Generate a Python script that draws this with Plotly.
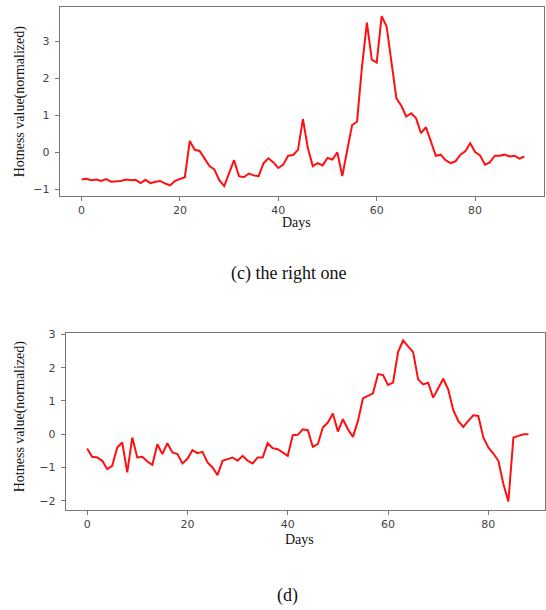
import plotly.graph_objects as go

# ---- data ----
days_c = list(range(91))
hot_c = [-0.74, -0.72, -0.76, -0.74, -0.78, -0.73, -0.80, -0.80, -0.78, -0.74,
         -0.76, -0.75, -0.84, -0.75, -0.84, -0.80, -0.78, -0.85, -0.90, -0.78,
         -0.74, -0.68, 0.30, 0.06, 0.03, -0.16, -0.38, -0.47, -0.76, -0.92,
         -0.56, -0.22, -0.65, -0.68, -0.58, -0.63, -0.65, -0.30, -0.17, -0.28,
         -0.43, -0.34, -0.10, -0.08, 0.06, 0.89, 0.11, -0.38, -0.30, -0.36,
         -0.16, -0.20, -0.01, -0.65, 0.05, 0.73, 0.82, 2.30, 3.50, 2.50,
         2.42, 3.67, 3.40, 2.40, 1.45, 1.25, 0.96, 1.05, 0.91, 0.51,
         0.67, 0.29, -0.10, -0.07, -0.22, -0.30, -0.25, -0.07, 0.02, 0.24,
         0.00, -0.09, -0.34, -0.28, -0.10, -0.10, -0.07, -0.12, -0.10, -0.18,
         -0.12]

days_d = list(range(89))
hot_d = [-0.43, -0.68, -0.70, -0.80, -1.05, -0.95, -0.40, -0.25, -1.15, -0.10,
         -0.70, -0.68, -0.82, -0.92, -0.30, -0.60, -0.27, -0.55, -0.60, -0.88,
         -0.74, -0.48, -0.57, -0.53, -0.85, -1.00, -1.23, -0.80, -0.75, -0.70,
         -0.80, -0.65, -0.80, -0.88, -0.70, -0.70, -0.27, -0.42, -0.45, -0.55,
         -0.65, -0.03, -0.02, 0.15, 0.12, -0.38, -0.30, 0.20, 0.35, 0.62,
         0.08, 0.45, 0.15, -0.08, 0.40, 1.08, 1.15, 1.23, 1.81, 1.78,
         1.48, 1.55, 2.47, 2.82, 2.64, 2.47, 1.65, 1.50, 1.55, 1.10,
         1.38, 1.67, 1.35, 0.73, 0.40, 0.22, 0.40, 0.57, 0.55, -0.10,
         -0.40, -0.58, -0.80, -1.50, -2.02, -0.10, -0.05, 0.00, 0.00]

x_ticks = [0, 20, 40, 60, 80]
y_ticks_c = [-1, 0, 1, 2, 3]
y_ticks_d = [-2, -1, 0, 1, 2, 3]

y_title = "Hotness value(normalized)"
x_title = "Days"
caption_c = "(c) the right one"
caption_d = "(d)"

W, H = 546, 610

def px(x):
    return x / W

def py(y):
    return 1 - y / H

fig = go.Figure()
fig.add_trace(go.Scatter(x=days_c, y=hot_c, mode="lines",
                         line=dict(color="#ff1010", width=2),
                         xaxis="x", yaxis="y", showlegend=False))
fig.add_trace(go.Scatter(x=days_d, y=hot_d, mode="lines",
                         line=dict(color="#ff1010", width=2),
                         xaxis="x2", yaxis="y2", showlegend=False))

tickfont = dict(family="DejaVu Sans", size=11, color="#444444")
axis_common = dict(showline=True, mirror=True, linecolor="#777777", linewidth=1.3,
                   ticks="outside", ticklen=4, tickcolor="#777777", tickwidth=1,
                   showgrid=False, zeroline=False, tickfont=tickfont)

fig.update_layout(
    width=W, height=H,
    margin=dict(l=0, r=0, t=0, b=0),
    plot_bgcolor="white", paper_bgcolor="white",
    xaxis=dict(domain=[px(60), px(545)], range=[-4.4, 94.0], tickvals=x_ticks,
               anchor="y", **axis_common),
    yaxis=dict(domain=[py(193), py(3)], range=[-1.18, 3.92], tickvals=y_ticks_c,
               anchor="x", ticklabelstandoff=3, **axis_common),
    xaxis2=dict(domain=[px(66), 1.0], range=[-4.24, 91.3], tickvals=x_ticks,
                anchor="y2", **axis_common),
    yaxis2=dict(domain=[py(509), py(331)], range=[-2.27, 3.05], tickvals=y_ticks_d,
                anchor="x2", ticklabelstandoff=3, **axis_common),
)

serif = dict(family="Liberation Serif", size=14, color="#111111")
cap = dict(family="Liberation Serif", size=18, color="#111111")

ann = [
    dict(text=y_title, x=px(20), y=py(98), textangle=-90, font=serif),
    dict(text=x_title, x=px(297), y=py(220), font=serif),
    dict(text=caption_c, x=px(289), y=py(271), font=cap),
    dict(text=y_title, x=px(20), y=py(415), textangle=-90, font=serif),
    dict(text=x_title, x=px(300), y=py(539), font=serif),
    dict(text=caption_d, x=px(288), y=py(595), font=cap),
]
for a in ann:
    a.update(xref="paper", yref="paper", showarrow=False,
             xanchor="center", yanchor="middle")
fig.update_layout(annotations=ann)

fig.write_html("out.html", config={"displayModeBar": False},
               post_script="document.body.style.margin='0';document.body.style.padding='0';")
